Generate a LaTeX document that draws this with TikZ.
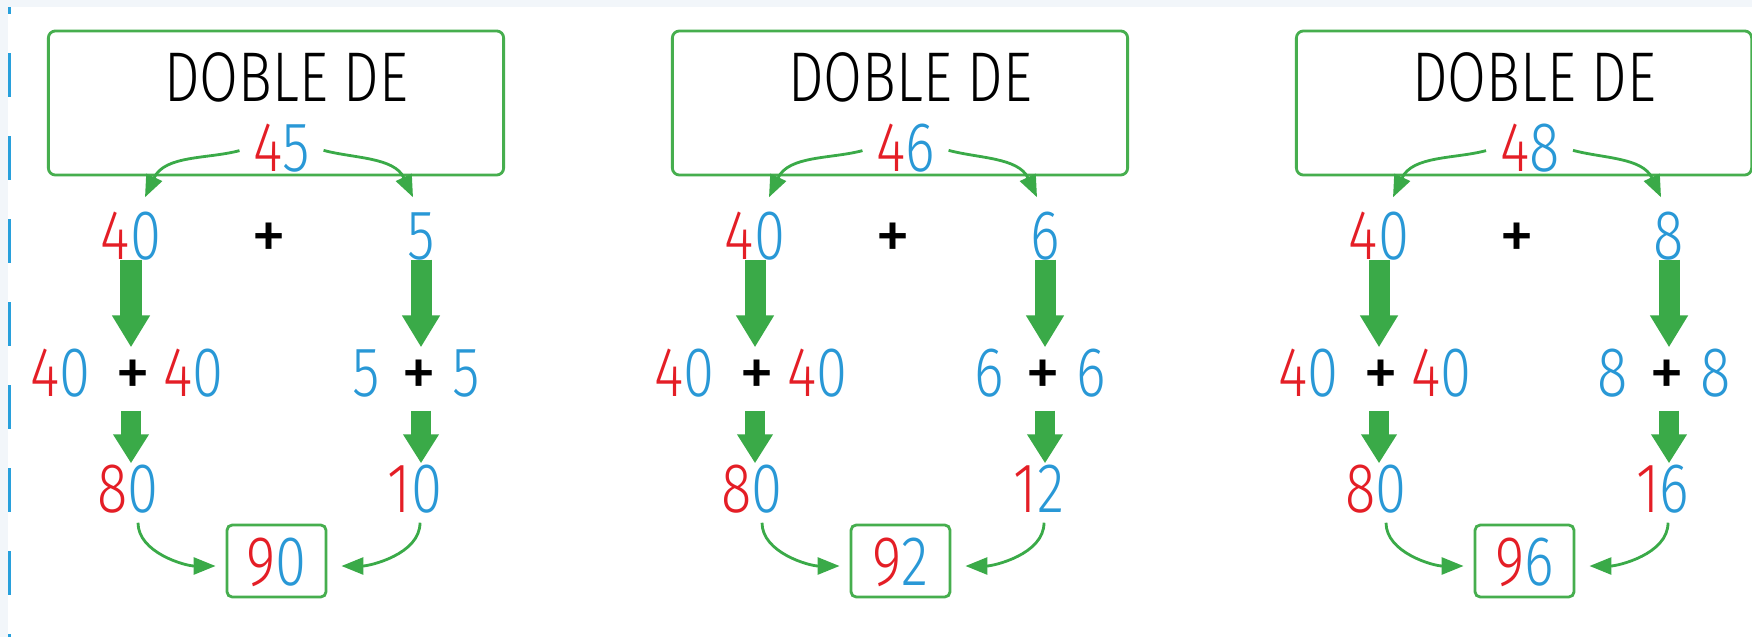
\documentclass[tikz,border=0pt]{standalone}
\usepackage{fontspec}
\usetikzlibrary{arrows.meta,calc}
\newfontfamily\numfont{Fira Sans Light}[FakeStretch=0.8]
\newfontfamily\plusfont{Fira Sans}
\definecolor{numred}{RGB}{228,30,38}
\definecolor{numblue}{RGB}{41,152,214}
\definecolor{arrowgreen}{RGB}{58,170,72}
\definecolor{framegreen}{RGB}{70,174,78}
\definecolor{pagegray}{RGB}{242,246,250}
\definecolor{ruleblue}{RGB}{40,160,220}
\newcommand{\twodig}[2]{\textcolor{numred}{#1}\textcolor{numblue}{#2}}
\newcommand{\onedig}[1]{\textcolor{numblue}{#1}}
\newcommand{\plussign}{{\plusfont +}}

\tikzset{
  numtxt/.style={inner sep=0pt, font=\numfont\fontsize{20}{24}\selectfont,
    text height=0.48cm, text depth=0pt},
  topframe/.style={draw=framegreen, line width=0.8pt, rounded corners=2pt,
    minimum width=4.55cm, minimum height=1.44cm, inner sep=0pt},
  resframe/.style={numtxt, draw=framegreen, line width=0.8pt, rounded corners=1.5pt,
    minimum width=0.99cm, minimum height=0.72cm},
  linkarrow/.style={draw=arrowgreen, line width=0.8pt,
    -{Triangle[length=0.22cm, width=0.17cm]}},
  bigarrow/.style={draw=arrowgreen, line width=0.21cm,
    -{Triangle[length=0.32cm, width=0.36cm]}},
  smallarrow/.style={draw=arrowgreen, line width=0.2cm, shorten <=0.14cm,
    -{Triangle[length=0.29cm, width=0.34cm]}}
}

\begin{document}
\begin{tikzpicture}[x=0.01cm, y=0.01cm]
\useasboundingbox (0,0) rectangle (1752,-637);
\fill[white] (0,0) rectangle (1752,-637);
\fill[pagegray] (0,0) rectangle (8,-637);
\draw[ruleblue, line width=0.03cm, dash pattern=on 0.44cm off 0.39cm] (9.5,30) -- (9.5,-650);
\fill[pagegray] (0,0) rectangle (1752,-7);

\foreach \cx/\un/\su [count=\i] in {276/5/0, 900/6/2, 1524/8/6}{
  \node[topframe] (frame\i) at (\cx,-103) {};
  \node[numtxt] (title\i) at (\cx+10,-77.5) {DOBLE DE};
  \node[numtxt] (whole\i) at (\cx+6,-147) {\twodig{4}{\un}};
  \node[numtxt] (tens\i) at (\cx-145,-235) {\twodig{4}{0}};
  \node[numtxt] (plus\i) at (\cx-7,-235) {\plussign};
  \node[numtxt] (unit\i) at (\cx+145,-235) {\onedig{\un}};
  \node[numtxt] (tsum\i) at (\cx-149,-372) {\twodig{4}{0}\hspace{0.25cm}\plussign\hspace{0.13cm}\twodig{4}{0}};
  \node[numtxt] (usum\i) at (\cx+140,-372) {\onedig{\un}\hspace{0.22cm}\plussign\hspace{0.15cm}\onedig{\un}};
  \node[numtxt] (tdbl\i) at (\cx-148,-488) {\twodig{8}{0}};
  \node[numtxt] (udbl\i) at (\cx+139,-488) {\twodig{1}{\su}};
  \node[resframe] (total\i) at (\cx+0.5,-561) {\twodig{9}{\su}};
  \draw[linkarrow, shorten <=0.14cm] (whole\i.west) to[out=195, in=65] ([xshift=0.14cm, yshift=0.13cm]tens\i.north);
  \draw[linkarrow, shorten <=0.13cm] (whole\i.east) to[out=-15, in=115] ([xshift=-0.08cm, yshift=0.13cm]unit\i.north);
  \draw[bigarrow] (tens\i.south) -- (tens\i.south |- tsum\i.north);
  \draw[bigarrow] (unit\i.south) -- (unit\i.south |- usum\i.north);
  \draw[smallarrow] (tens\i.south |- tsum\i.south) -- (tens\i.south |- tdbl\i.north);
  \draw[smallarrow] (unit\i.south |- usum\i.south) -- (unit\i.south |- udbl\i.north);
  \draw[linkarrow, shorten <=0.1cm, shorten >=0.1cm] ([xshift=0.1cm]tdbl\i.south) to[out=-90, in=180] ([yshift=-0.05cm]total\i.west);
  \draw[linkarrow, shorten <=0.1cm, shorten >=0.14cm] ([xshift=0.05cm]udbl\i.south) to[out=-90, in=0] ([yshift=-0.05cm]total\i.east);
}
\end{tikzpicture}
\end{document}
